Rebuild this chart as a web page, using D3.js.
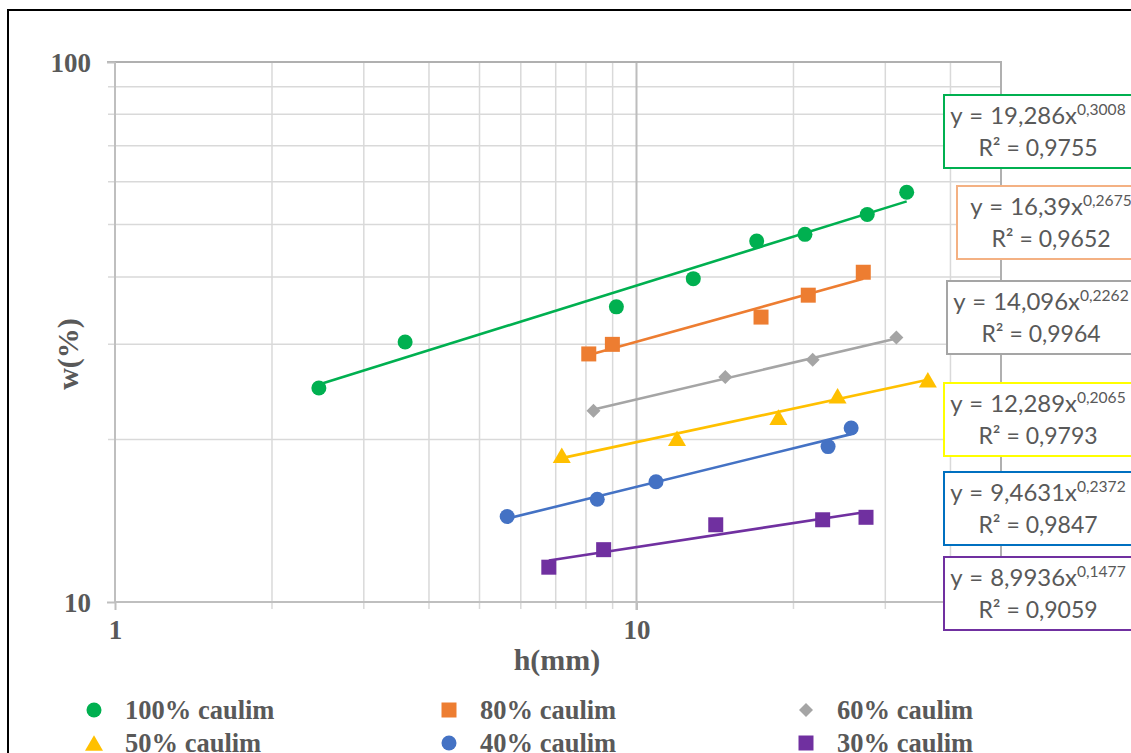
<!DOCTYPE html>
<html>
<head>
<meta charset="utf-8">
<script src="https://cdn.jsdelivr.net/npm/d3@7"></script>
<style>
  html, body { margin: 0; padding: 0; background: #fff; overflow: hidden; }
  svg { display: block; }
</style>
</head>
<body>
<svg id="chart" width="1131" height="753"></svg>
<script>
// ---------------- DATA ----------------
const seriesNames = ["100% caulim", "80% caulim", "60% caulim", "50% caulim", "40% caulim", "30% caulim"];
const h100 = [2.46, 3.60, 9.15, 12.85, 17.0, 21.04, 27.7, 32.97];
const w100 = [24.9, 30.3, 35.2, 39.7, 46.6, 47.96, 52.2, 57.4];
const h80 = [8.10, 8.99, 17.33, 21.35, 27.22];
const w80 = [28.8, 30.0, 33.7, 37.0, 40.8];
const h60 = [8.27, 14.8, 21.77, 31.5];
const w60 = [22.6, 26.1, 28.1, 30.9];
const h50 = [7.19, 11.96, 18.71, 24.3, 36.2];
const w50 = [18.7, 20.1, 22.0, 24.1, 25.8];
const h40 = [5.65, 8.41, 10.9, 23.3, 25.8];
const w40 = [14.4, 15.5, 16.7, 19.4, 21.0];
const h30 = [6.79, 8.65, 14.19, 22.75, 27.55];
const w30 = [11.6, 12.5, 13.9, 14.2, 14.35];
// power trendlines y = a * x^b
const trendA = [19.286, 16.39, 14.096, 12.289, 9.4631, 8.9936];
const trendB = [0.3008, 0.2675, 0.2262, 0.2065, 0.2372, 0.1477];
const trendAText = ["19,286", "16,39", "14,096", "12,289", "9,4631", "8,9936"];
const trendBText = ["0,3008", "0,2675", "0,2262", "0,2065", "0,2372", "0,1477"];
const r2Text = ["0,9755", "0,9652", "0,9964", "0,9793", "0,9847", "0,9059"];
const xTickLabels = [1, 10];
const yTickLabels = [10, 100];
const xTitle = "h(mm)";
const yTitle = "w(%)";

// ---------------- STYLE / LAYOUT ----------------
const hs = [h100, h80, h60, h50, h40, h30];
const ws = [w100, w80, w60, w50, w40, w30];
const colors = ["#00b050", "#ed7d31", "#a5a5a5", "#ffc000", "#4472c4", "#7030a0"];
const boxColors = ["#00b050", "#f4b183", "#a5a5a5", "#ffff00", "#0070c0", "#7030a0"];
const shapes = ["circle", "square", "diamond", "triangle", "circle", "square"];
const boxPos = [[944, 95], [957, 186], [947, 281], [944, 383], [944, 472], [944, 557]];
const boxW = 188, boxH = 73;

const svg = d3.select("#chart");
const serif = "'Liberation Serif', 'Times New Roman', serif";
const textGray = "#595959";

const L = 115, R = 1001, T = 62, B = 602;
const x = d3.scaleLog().domain([1, 50]).range([L, R]);
const y = d3.scaleLog().domain([10, 100]).range([B, T]);

// outer border
svg.append("rect").attr("x", 8).attr("y", 10).attr("width", 1300).attr("height", 900)
  .attr("fill", "none").attr("stroke", "#000").attr("stroke-width", 2);

// minor gridlines
const xMinor = [2,3,4,5,6,7,8,9,20,30,40];
const yMinor = [20,30,40,50,60,70,80,90];
const g = svg.append("g");
g.selectAll(".vx").data(xMinor).join("line")
  .attr("x1", d => x(d)).attr("x2", d => x(d)).attr("y1", T).attr("y2", B + 7)
  .attr("stroke", "#d9d9d9").attr("stroke-width", 1.5);
g.selectAll(".hy").data(yMinor).join("line")
  .attr("y1", d => y(d)).attr("y2", d => y(d)).attr("x1", L - 7).attr("x2", R)
  .attr("stroke", "#d9d9d9").attr("stroke-width", 1.5);
// major gridline at 10 (x)
g.append("line").attr("x1", x(10)).attr("x2", x(10)).attr("y1", T).attr("y2", B + 8)
  .attr("stroke", "#bdbdbd").attr("stroke-width", 2);
// top (100) and right border
g.append("line").attr("x1", L - 8).attr("x2", R + 1).attr("y1", y(100)).attr("y2", y(100))
  .attr("stroke", "#b0b0b0").attr("stroke-width", 2);
g.append("line").attr("x1", R).attr("x2", R).attr("y1", T).attr("y2", B)
  .attr("stroke", "#b0b0b0").attr("stroke-width", 2);

// axes
const xAxis = d3.axisBottom(x).tickValues(xTickLabels).tickFormat(d3.format("d")).tickSize(8).tickPadding(10);
const yAxis = d3.axisLeft(y).tickValues(yTickLabels).tickFormat(d3.format("d")).tickSize(8).tickPadding(16);
const gx = svg.append("g").attr("transform", `translate(0,${B})`).call(xAxis);
const gy = svg.append("g").attr("transform", `translate(${L},0)`).call(yAxis);
[gx, gy].forEach(a => {
  a.select(".domain").attr("stroke", "#bfbfbf").attr("stroke-width", 2);
  a.selectAll(".tick line").attr("stroke", "#bfbfbf").attr("stroke-width", 2);
  a.selectAll(".tick text").attr("fill", textGray).attr("font-family", serif)
    .attr("font-weight", "bold").attr("font-size", 27);
});
gx.select(".domain").attr("d", `M${L},0H${R}`);
gy.select(".domain").attr("d", `M0,${B}V${T}`);
gy.selectAll(".tick text").attr("dy", "0.34em");

// axis titles
svg.append("text").attr("x", 557).attr("y", 670).attr("text-anchor", "middle")
  .attr("font-family", serif).attr("font-weight", "bold").attr("font-size", 30)
  .attr("fill", textGray).text(xTitle);
svg.append("text").attr("transform", "translate(78,354) rotate(-90)").attr("text-anchor", "middle")
  .attr("font-family", serif).attr("font-weight", "bold").attr("font-size", 30)
  .attr("fill", textGray).text(yTitle);

// symbol shapes
const triShape = { draw(ctx, size) { const s = Math.sqrt(size); const hh = s * 0.45; const hw = s * 0.52;
  ctx.moveTo(0, -hh); ctx.lineTo(hw, hh); ctx.lineTo(-hw, hh); ctx.closePath(); } };
const diamondShape = { draw(ctx, size) { const r = Math.sqrt(size) * 0.5;
  ctx.moveTo(0, -r); ctx.lineTo(r, 0); ctx.lineTo(0, r); ctx.lineTo(-r, 0); ctx.closePath(); } };
function symPath(shape) {
  if (shape === "circle") return d3.symbol(d3.symbolCircle, 177)();
  if (shape === "square") return d3.symbol(d3.symbolSquare, 225)();
  if (shape === "diamond") return d3.symbol(diamondShape, 196)();
  return d3.symbol(triShape, 300)();
}

// trendlines + markers
const lineGen = d3.line().x(d => x(d[0])).y(d => y(d[1]));
seriesNames.forEach((name, i) => {
  const hmin = d3.min(hs[i]), hmax = d3.max(hs[i]);
  const ends = [hmin, hmax].map(h => [h, trendA[i] * Math.pow(h, trendB[i])]);
  svg.append("path").attr("d", lineGen(ends)).attr("fill", "none")
    .attr("stroke", colors[i]).attr("stroke-width", 2.6);
});
seriesNames.forEach((name, i) => {
  const pts = hs[i].map((h, j) => [h, ws[i][j]]);
  svg.append("g").selectAll("path").data(pts).join("path")
    .attr("d", symPath(shapes[i]))
    .attr("transform", d => `translate(${x(d[0])},${y(d[1])})`)
    .attr("fill", colors[i]);
});

// equation boxes
const sans = "Lato, 'Open Sans', sans-serif";
seriesNames.forEach((name, i) => {
  const [bx, by] = boxPos[i];
  const gb = svg.append("g");
  gb.append("rect").attr("x", bx).attr("y", by).attr("width", boxW).attr("height", boxH)
    .attr("fill", "#fff").attr("stroke", boxColors[i]).attr("stroke-width", 2);
  const cx = bx + boxW / 2;
  const t1 = gb.append("text").attr("transform", `translate(${cx},${by + 29}) scale(1.04,1)`)
    .attr("text-anchor", "middle").attr("word-spacing", 1)
    .attr("font-family", sans).attr("font-size", 23).attr("fill", textGray);
  t1.append("tspan").text(`y = ${trendAText[i]}x`);
  t1.append("tspan").attr("dy", -9).attr("font-size", 15).attr("word-spacing", 0).text(trendBText[i]);
  gb.append("text").attr("transform", `translate(${cx},${by + 61})`)
    .attr("text-anchor", "middle")
    .attr("font-family", sans).attr("font-size", 23).attr("fill", textGray)
    .text(`R² = ${r2Text[i]}`);
});

// legend
const legX = [94, 449, 806];
const legY = [710, 743];
seriesNames.forEach((name, i) => {
  const col = i % 3, row = Math.floor(i / 3);
  const lg = svg.append("g").attr("transform", `translate(${legX[col]},${legY[row]})`);
  lg.append("path").attr("d", symPath(shapes[i])).attr("fill", colors[i]);
  lg.append("text").attr("x", 31).attr("y", 9).attr("font-family", serif)
    .attr("font-weight", "bold").attr("font-size", 26.5).attr("fill", textGray).text(name);
});
</script>
</body>
</html>
